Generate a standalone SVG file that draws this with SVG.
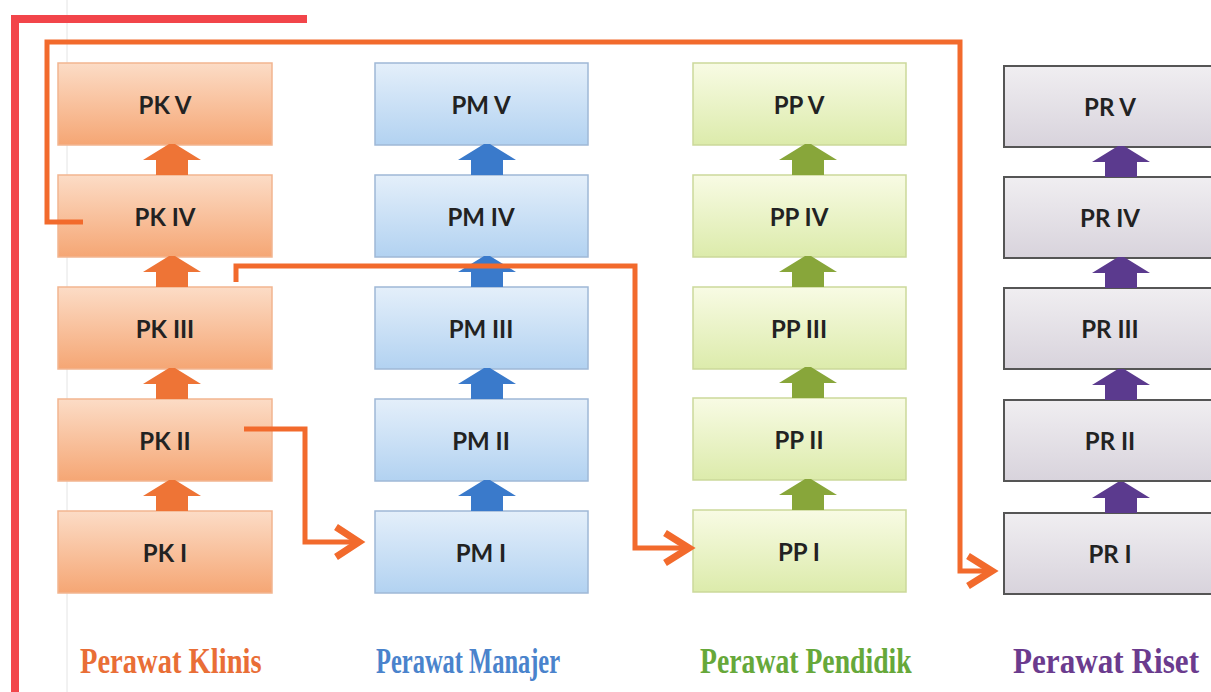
<svg xmlns="http://www.w3.org/2000/svg" width="1211" height="692" viewBox="0 0 1211 692">
<style>
.lbl{font-family:Lato,"Open Sans","Liberation Sans",sans-serif;font-weight:700;font-size:24px;fill:#222;text-anchor:middle}
.cat{font-family:"Liberation Serif","DejaVu Serif",serif;font-weight:700;font-size:35px}
.pk{fill:url(#gpk);stroke:#f2b590;stroke-width:1.5}
.pm{fill:url(#gpm);stroke:#9fb8d6;stroke-width:1.5}
.pp{fill:url(#gpp);stroke:#cbd99a;stroke-width:1.5}
.pr{fill:url(#gpr);stroke:#555;stroke-width:2}
.conn{fill:none;stroke:#f26a2c;stroke-width:5;stroke-linejoin:miter}
.head{fill:none;stroke:#f26a2c;stroke-width:7;stroke-linejoin:miter;stroke-linecap:butt}
</style>
<defs>
<linearGradient id="gpk" x1="0" y1="0" x2="0" y2="1"><stop offset="0" stop-color="#fcdcc6"/><stop offset="1" stop-color="#f5a674"/></linearGradient>
<linearGradient id="gpm" x1="0" y1="0" x2="0" y2="1"><stop offset="0" stop-color="#e4effa"/><stop offset="1" stop-color="#b2d2f1"/></linearGradient>
<linearGradient id="gpp" x1="0" y1="0" x2="0" y2="1"><stop offset="0" stop-color="#f8fbe4"/><stop offset="1" stop-color="#dcebab"/></linearGradient>
<linearGradient id="gpr" x1="0" y1="0" x2="0" y2="1"><stop offset="0" stop-color="#f0eef1"/><stop offset="1" stop-color="#d8d3dc"/></linearGradient>
<path id="up" d="M-3,0 L3,0 L29,16 L16,16 L16,31 L-16,31 L-16,16 L-29,16 Z"/>
</defs>
<rect width="1211" height="692" fill="#fff"/>
<line x1="67" y1="0" x2="67" y2="692" stroke="#e4e4e4" stroke-width="1"/>

<g id="col-pk">
<g id="pk5"><rect class="pk" x="58" y="63" width="214" height="82"/><text class="lbl" x="165" y="114">PK V</text></g>
<g id="pk4"><rect class="pk" x="58" y="175" width="214" height="82"/><text class="lbl" x="165" y="226">PK IV</text></g>
<g id="pk3"><rect class="pk" x="58" y="287" width="214" height="82"/><text class="lbl" x="165" y="338">PK III</text></g>
<g id="pk2"><rect class="pk" x="58" y="399" width="214" height="82"/><text class="lbl" x="165" y="450">PK II</text></g>
<g id="pk1"><rect class="pk" x="58" y="511" width="214" height="82"/><text class="lbl" x="165" y="562">PK I</text></g>
<g fill="#ee7436"><use href="#up" x="172" y="144"/><use href="#up" x="172" y="256"/><use href="#up" x="172" y="368"/><use href="#up" x="172" y="480"/></g>
</g>

<g id="col-pm">
<g id="pm5"><rect class="pm" x="375" y="63" width="213" height="82"/><text class="lbl" x="481" y="114">PM V</text></g>
<g id="pm4"><rect class="pm" x="375" y="175" width="213" height="82"/><text class="lbl" x="481" y="226">PM IV</text></g>
<g id="pm3"><rect class="pm" x="375" y="287" width="213" height="82"/><text class="lbl" x="481" y="338">PM III</text></g>
<g id="pm2"><rect class="pm" x="375" y="399" width="213" height="82"/><text class="lbl" x="481" y="450">PM II</text></g>
<g id="pm1"><rect class="pm" x="375" y="511" width="213" height="82"/><text class="lbl" x="481" y="562">PM I</text></g>
<g fill="#3a7acb"><use href="#up" x="487" y="144"/><use href="#up" x="487" y="256"/><use href="#up" x="487" y="368"/><use href="#up" x="487" y="480"/></g>
</g>

<g id="col-pp">
<g id="pp5"><rect class="pp" x="693" y="63" width="213" height="82"/><text class="lbl" x="799" y="114">PP V</text></g>
<g id="pp4"><rect class="pp" x="693" y="175" width="213" height="82"/><text class="lbl" x="799" y="226">PP IV</text></g>
<g id="pp3"><rect class="pp" x="693" y="287" width="213" height="82"/><text class="lbl" x="799" y="338">PP III</text></g>
<g id="pp2"><rect class="pp" x="693" y="398" width="213" height="82"/><text class="lbl" x="799" y="449">PP II</text></g>
<g id="pp1"><rect class="pp" x="693" y="510" width="213" height="82"/><text class="lbl" x="799" y="561">PP I</text></g>
<g fill="#88a63a"><use href="#up" x="808" y="144"/><use href="#up" x="808" y="256"/><use href="#up" x="808" y="367"/><use href="#up" x="808" y="479"/></g>
</g>

<g id="col-pr">
<g id="pr5"><rect class="pr" x="1004" y="66" width="213" height="81"/><text class="lbl" x="1110" y="116">PR V</text></g>
<g id="pr4"><rect class="pr" x="1004" y="177" width="213" height="81"/><text class="lbl" x="1110" y="227">PR IV</text></g>
<g id="pr3"><rect class="pr" x="1004" y="288" width="213" height="81"/><text class="lbl" x="1110" y="338">PR III</text></g>
<g id="pr2"><rect class="pr" x="1004" y="400" width="213" height="81"/><text class="lbl" x="1110" y="450">PR II</text></g>
<g id="pr1"><rect class="pr" x="1004" y="513" width="213" height="81"/><text class="lbl" x="1110" y="563">PR I</text></g>
<g fill="#5b3a8e"><use href="#up" x="1121" y="146"/><use href="#up" x="1121" y="257"/><use href="#up" x="1121" y="369"/><use href="#up" x="1121" y="482"/></g>
</g>

<g id="connectors">
<path d="M307,19 H15 V692" fill="none" stroke="#f2454a" stroke-width="8"/>
<path class="conn" d="M83,222 H47 V42 H960 V571 H990"/>
<polyline class="head" points="968,556 992,571 968,586"/>
<path class="conn" d="M236,282 V266 H635 V548 H688"/>
<polyline class="head" points="665,533 689,548 665,563"/>
<path class="conn" d="M244,429 H305 V542 H357"/>
<polyline class="head" points="336,527 359,542 336,557"/>
</g>

<g id="categories">
<text class="cat" transform="translate(80,673) scale(0.818,1)" fill="#e96e36" textLength="222" lengthAdjust="spacingAndGlyphs">Perawat Klinis</text>
<text class="cat" transform="translate(376,673) scale(0.7,1)" fill="#4a83cc" textLength="263" lengthAdjust="spacingAndGlyphs">Perawat Manajer</text>
<text class="cat" transform="translate(700,673) scale(0.793,1)" fill="#66a83a" textLength="267" lengthAdjust="spacingAndGlyphs">Perawat Pendidik</text>
<text class="cat" transform="translate(1013,673) scale(0.89,1)" fill="#6b3b8e" textLength="209" lengthAdjust="spacingAndGlyphs">Perawat Riset</text>
</g>
</svg>
